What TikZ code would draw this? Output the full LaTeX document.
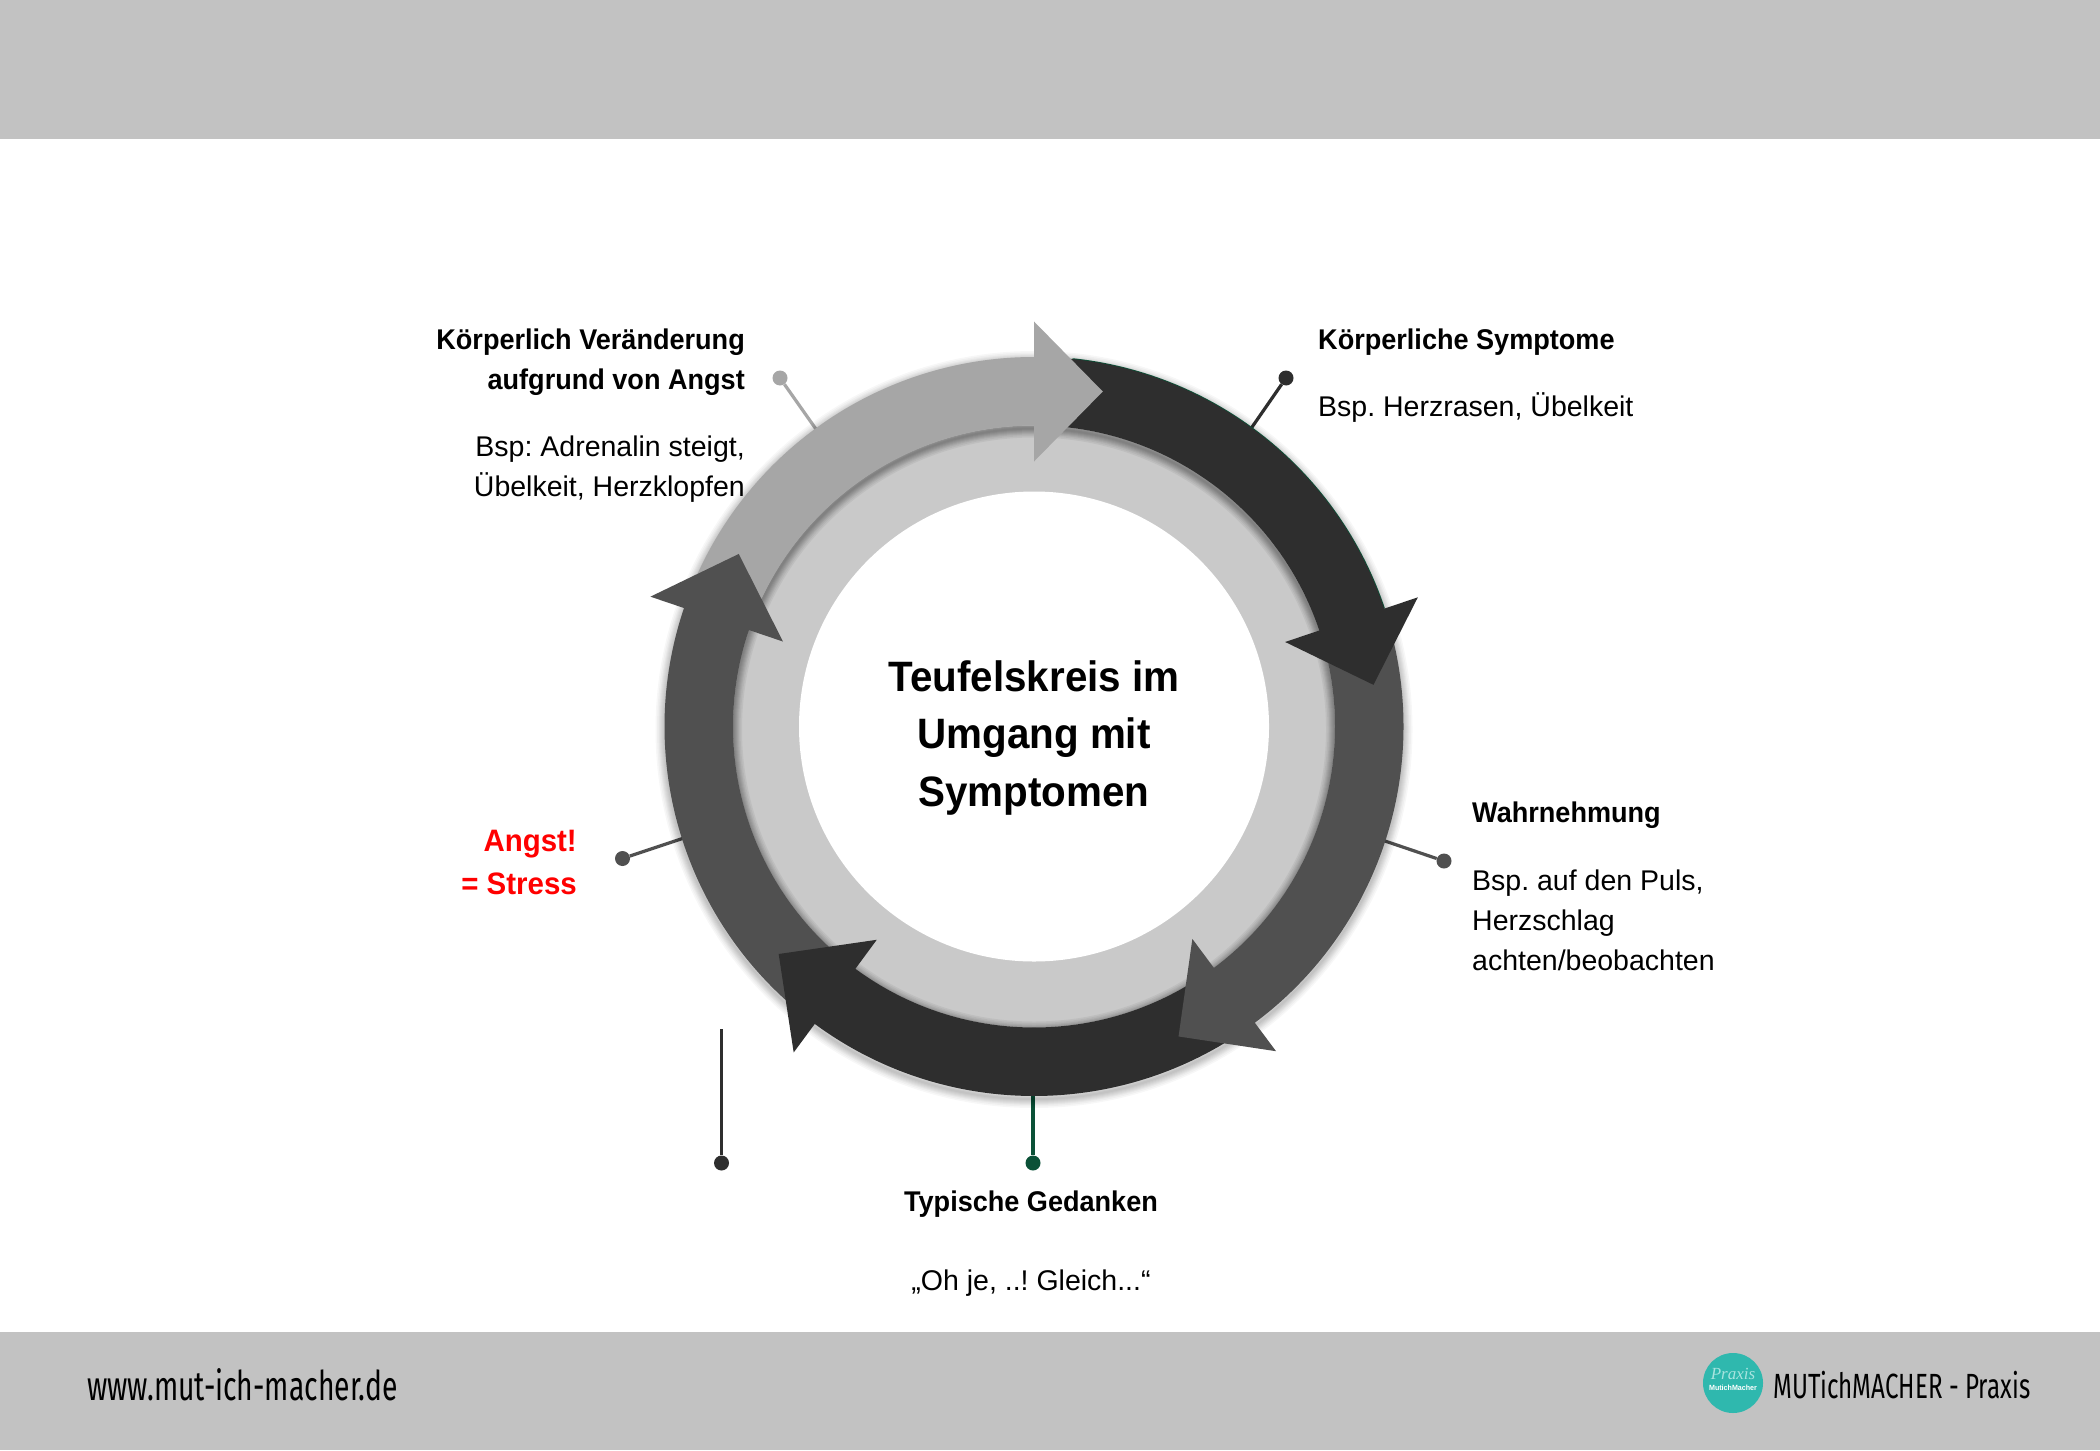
\documentclass[tikz,border=0pt]{standalone}
\usepackage{fontspec}
\setmainfont[BoldFeatures={FakeStretch=0.95}]{Liberation Sans}
\newfontfamily\footfont[FakeStretch=0.69]{Fira Sans}
\newfontfamily\scriptish[Scale=1]{Liberation Serif}
\frenchspacing
\definecolor{barc}{HTML}{C2C2C2}
\definecolor{ringc}{HTML}{C9C9C9}
\definecolor{lightc}{HTML}{A6A6A6}
\definecolor{darkc}{HTML}{2E2E2E}
\definecolor{midc}{HTML}{505050}
\definecolor{greenc}{HTML}{0B5137}
\definecolor{tealc}{HTML}{2FB8AE}
\definecolor{tealt}{HTML}{A8E4DF}
\newcommand{\bandseg}[3]{\fill[#1] (#2:369.5pt) arc[start angle=#2,end angle=#3,radius=369.5pt] -- (#3:301pt) arc[start angle=#3,end angle=#2,radius=301pt] -- cycle;}
\newcommand{\headseg}[3]{\fill[#1] (#2:265pt) -- (#2:405pt) -- (#3:342pt) -- cycle;}
\tikzset{
  bar/.style={fill=barc,draw=none},
  dot/.style={circle,fill=#1,draw=none,minimum size=15pt,inner sep=0pt},
  lead/.style={draw=#1,line width=3.2pt},
  headtext/.style={font=\fontsize{28.5}{40}\selectfont\bfseries,inner sep=0pt},
  bodytext/.style={font=\fontsize{28.5}{40}\selectfont,inner sep=0pt},
  foottext/.style={font=\footfont\fontsize{41}{46}\selectfont,text=black,inner sep=0pt},
}
\begin{document}
\begin{tikzpicture}[x=1pt,y=-1pt]
\useasboundingbox (0,0) rectangle (2100,1450);
\fill[white] (0,0) rectangle (2100,1450);
\fill[bar] (0,0) rectangle (2100,139);
\fill[bar] (0,1332) rectangle (2100,1450);

% leader dots and ring ends
\node[dot=lightc] (d5) at (780,378) {};
\coordinate (e5) at (818,432);
\node[dot=darkc] (d1) at (1286,378) {};
\coordinate (e1) at (1250,430);
\node[dot=midc] (d2) at (1444,861) {};
\coordinate (e2) at (1382,840);
\node[dot=midc] (d4) at (622.5,858.5) {};
\coordinate (e4) at (684,838);
\node[dot=greenc] (d3) at (1033,1163) {};
\coordinate (e3) at (1033,1090);
\node[dot=darkc] (d6) at (721.5,1163) {};
\coordinate (e6) at (721.5,1029);
\draw[lead=lightc] (d5) -- (e5);
\draw[lead=darkc] (d1) -- (e1);
\draw[lead=midc] (d2) -- (e2);
\draw[lead=midc] (d4) -- (e4);
\draw[lead=greenc] (d3) -- (e3);
\draw[lead=darkc] (d6) -- (e6);

\begin{scope}[shift={(1034,726.5)}]
  \foreach \w in {2,4,6,8,10,12,15,18}{
    \draw[black,opacity=.03,line width=\w pt] (0,-3pt) circle[radius=369.5pt];
  }
  \fill[ringc] (0,0) circle[radius=301pt];
  \fill[white] (0,0) circle[radius=235pt];
  \foreach \w in {2,4,6,8,10,12,15,18}{
    \draw[black,opacity=.05,line width=\w pt] (0,-3pt) circle[radius=301pt];
  }
  \draw[greenc,line width=1.6pt] (18.6:369.5pt) arc[start angle=18.6,end angle=84,radius=369.5pt];
  \bandseg{darkc}{17.6}{87}
  \bandseg{midc}{-54.3}{15.6}
  \bandseg{darkc}{-127.4}{-56.3}
  \bandseg{midc}{-199.7}{-129.4}
  \bandseg{lightc}{89}{158.3}
  \headseg{darkc}{18.6}{7}
  \headseg{midc}{-53.3}{-65}
  \headseg{darkc}{-126.4}{-138.3}
  \headseg{midc}{161.3}{149.7}
  \headseg{lightc}{90}{78.4}
\end{scope}

\node[font=\fontsize{42.5}{57.5}\selectfont\bfseries,align=center,inner sep=0pt] (title) at (1034,738) {Teufelskreis im\\Umgang mit\\Symptomen};

\node[headtext,align=right,anchor=east] (t5h) at (745,362) {Körperlich Veränderung\\aufgrund von Angst};
\node[bodytext,align=right,anchor=east] (t5b) at (745,469) {Bsp: Adrenalin steigt,\\Übelkeit, Herzklopfen};
\node[headtext,anchor=west] (t1h) at (1318,342.5) {Körperliche Symptome};
\node[bodytext,anchor=west] (t1b) at (1318,408) {Bsp. Herzrasen, Übelkeit};
\node[headtext,anchor=west] (t2h) at (1472,815.5) {Wahrnehmung};
\node[bodytext,align=left,anchor=west] (t2b) at (1472,920) {Bsp. auf den Puls,\\Herzschlag\\achten/beobachten};
\node[headtext] (t3h) at (1031,1204.5) {Typische Gedanken};
\node[bodytext] (t3b) at (1031,1283) {„Oh je, ..! Gleich...“};
\node[font=\fontsize{31}{43}\selectfont\bfseries,text=red,align=right,anchor=east,inner sep=0pt] (t4) at (577,862) {Angst!\\= Stress};

\node[foottext,anchor=west] (fl) at (87,1385) {www.mut-ich-macher.de};
\node[foottext,anchor=west,font=\footfont\fontsize{35}{40}\selectfont] (fr) at (1773,1385) {MUTichMACHER - Praxis};
\node[circle,fill=tealc,minimum size=60pt,inner sep=0pt] (logo) at (1733,1383) {};
\node[font=\scriptish\itshape\fontsize{17}{17}\selectfont,text=tealt,inner sep=0pt] (lg1) at (1733,1374) {Praxis};
\node[font=\bfseries\fontsize{7.5}{8}\selectfont,text=white,inner sep=0pt] (lg2) at (1733,1388) {MutichMacher};
\end{tikzpicture}
\end{document}
